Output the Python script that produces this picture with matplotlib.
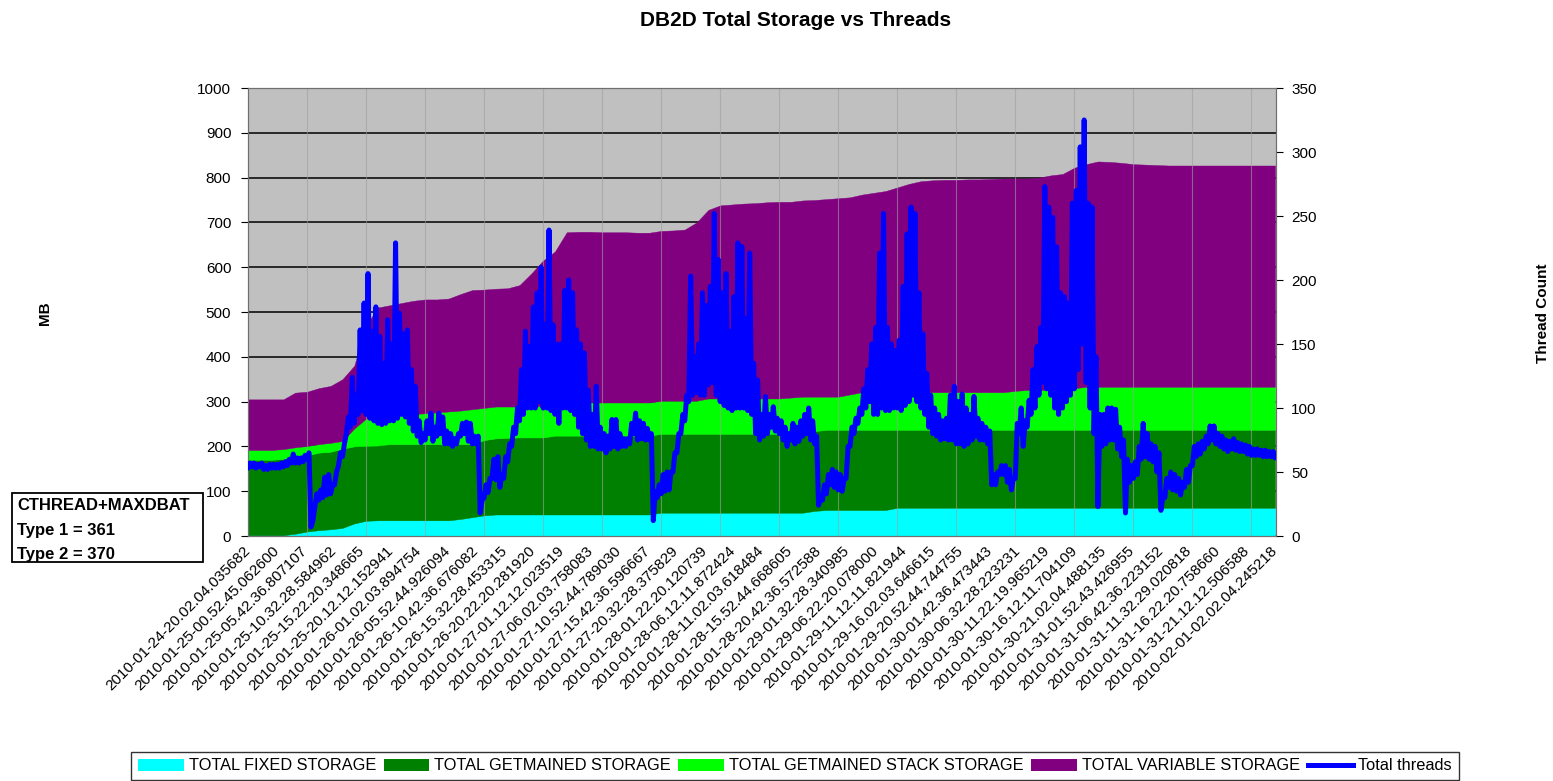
import numpy as np
import matplotlib.pyplot as plt
from matplotlib.patches import Rectangle, Patch
from matplotlib.lines import Line2D

plt.rcParams['font.family'] = ['Liberation Sans', 'DejaVu Sans']

# x axis labels (one every 58 samples of ~5 min)
tick_labels = [
    "2010-01-24-20.02.04.035682", "2010-01-25-00.52.45.062600", "2010-01-25-05.42.36.807107",
    "2010-01-25-10.32.28.584962", "2010-01-25-15.22.20.348665", "2010-01-25-20.12.12.152941",
    "2010-01-26-01.02.03.894754", "2010-01-26-05.52.44.926094", "2010-01-26-10.42.36.676082",
    "2010-01-26-15.32.28.453315", "2010-01-26-20.22.20.281920", "2010-01-27-01.12.12.023519",
    "2010-01-27-06.02.03.758083", "2010-01-27-10.52.44.789030", "2010-01-27-15.42.36.596667",
    "2010-01-27-20.32.28.375829", "2010-01-28-01.22.20.120739", "2010-01-28-06.12.11.872424",
    "2010-01-28-11.02.03.618484", "2010-01-28-15.52.44.668605", "2010-01-28-20.42.36.572588",
    "2010-01-29-01.32.28.340985", "2010-01-29-06.22.20.078000", "2010-01-29-11.12.11.821944",
    "2010-01-29-16.02.03.646615", "2010-01-29-20.52.44.744755", "2010-01-30-01.42.36.473443",
    "2010-01-30-06.32.28.223231", "2010-01-30-11.22.19.965219", "2010-01-30-16.12.11.704109",
    "2010-01-30-21.02.04.488135", "2010-01-31-01.52.43.426955", "2010-01-31-06.42.36.223152",
    "2010-01-31-11.32.29.020818", "2010-01-31-16.22.20.758660", "2010-01-31-21.12.12.506588",
    "2010-02-01-02.02.04.245218",
]

# storage in MB, one value every 24 samples
fixed_storage = [2] * 4 + [5, 10, 13, 15, 18, 28, 34] + [35] * 7 + [38, 42, 46] + [48] * 14 \
    + [52] * 13 + [56] + [58] * 6 + [63] * 33
getmained_storage = [168, 168, 168, 170, 173, 170, 173, 173, 177, 172, 167, 167] + [170] * 6 \
    + [167, 163, 168, 170, 171] + [172] * 3 + [176] * 9 + [176] * 11 + [178, 180, 178] \
    + [179] * 6 + [174] * 33
stack_storage = [22, 22, 22, 22, 20, 21, 19, 20, 17, 40, 61, 64, 63, 65, 67, 69, 71, 73, 75, 78,
                 72, 71, 70, 69, 70, 70, 68] + [74] * 8 + [74] * 4 + [79] * 7 \
    + [79, 79, 77, 74, 74, 79] + [84] * 13 + [87] + [89] * 4 + [93] + [96] * 17
variable_storage = [113, 113, 113, 111, 122, 121, 125, 127, 138, 140, 208, 244, 247, 250, 253,
                    254, 252, 252, 260, 266, 264, 263, 264, 271, 296, 325, 343, 380, 381, 381,
                    380, 380, 380, 379, 379, 379, 380, 382, 398, 421, 431, 433, 435, 436, 438,
                    439, 437, 438, 439, 441, 443, 440, 441, 445, 449, 457, 465, 471, 473, 474,
                    474, 475, 475, 476, 477, 474, 472, 474, 479, 482, 492, 497, 503, 502, 500,
                    497, 496, 495] + [494] * 10

# thread count, lowest and highest reading in each block of 8 samples
threads_low = [
    53, 54, 53, 54, 52, 52, 53, 53, 53, 54, 55, 57, 57, 57, 58, 60,
    7, 23, 28, 30, 32, 33, 40, 55, 62,
    80, 85, 88, 95, 98, 95, 92, 90, 88, 87, 88, 90, 90, 92, 95, 93, 88, 82, 78,
    73, 75, 80, 74, 78, 80, 72, 72, 70, 72, 78, 80, 74, 72, 72,
    18, 30, 34, 45, 44,
    38, 45, 58, 70, 80, 90, 95, 100, 100, 100, 105, 100, 100, 98, 95, 88, 100, 100, 98, 95,
    85, 80, 75, 70, 70, 68, 68, 65, 68, 70, 68, 70, 70, 72, 80, 75, 76, 75, 75,
    12, 30, 33, 35, 36, 50, 65, 80, 90,
    105, 110, 112, 110, 110, 118, 120, 110, 105, 102, 100, 98, 100, 100, 100, 98, 95, 80, 75,
    78, 80, 85, 82, 80, 75, 70, 75, 72, 74, 78, 80, 75, 72,
    24, 28, 33, 40, 38, 36, 35,
    45, 70, 80, 88, 95, 100, 105, 95, 95, 100, 98, 98, 100, 100, 98, 102, 105, 110, 105, 100, 95,
    85, 80, 78, 75, 76, 75, 75, 72, 72, 70, 72, 75, 78, 75, 75, 72,
    40, 40, 48, 48, 42, 36, 45, 80,
    70, 85, 95, 100, 110, 120, 115, 110, 100, 95, 100, 105, 110, 115, 130, 150, 120, 100, 80,
    23, 70, 72, 75, 75, 68, 62, 18, 42, 45, 48, 60, 62, 60, 58, 50, 20, 30, 38, 36, 35, 32, 38, 42,
    55, 62, 64, 68, 72, 75, 72, 70, 68, 66, 68, 67, 66, 66, 64, 63, 63, 63, 62, 62, 62, 61,
]
threads_high = [
    57, 57, 56, 57, 55, 56, 56, 56, 57, 58, 60, 64, 61, 61, 63, 65,
    12, 33, 36, 46, 48, 40, 50, 65, 72,
    93, 124, 110, 161, 182, 205, 160, 179, 156, 135, 169, 150, 229, 174, 158, 161, 130, 117, 90,
    80, 90, 96, 85, 96, 93, 82, 80, 76, 80, 88, 89, 88, 78, 78,
    28, 40, 45, 60, 62,
    48, 62, 72, 85, 100, 130, 160, 148, 179, 190, 210, 165, 239, 165, 150, 150, 192, 200, 190, 161,
    150, 143, 114, 95, 117, 85, 80, 78, 91, 91, 80, 76, 76, 88, 96, 90, 88, 84, 80,
    35, 40, 48, 50, 50, 65, 80, 95, 110,
    203, 140, 150, 190, 180, 195, 252, 216, 190, 205, 160, 187, 229, 226, 170, 221, 135, 122, 95,
    109, 95, 101, 92, 90, 85, 80, 88, 85, 90, 95, 100, 90, 78,
    30, 40, 48, 52, 50, 48, 45,
    70, 85, 92, 100, 115, 130, 150, 163, 221, 252, 163, 150, 145, 153, 195, 236, 257, 252, 190,
    158, 127,
    110, 100, 95, 90, 92, 110, 117, 105, 111, 100, 95, 109, 92, 88, 85, 82,
    48, 50, 55, 55, 52, 45, 88, 100,
    90, 106, 130, 148, 163, 273, 257, 249, 226, 190, 187, 182, 260, 270, 304, 325, 260, 257, 140,
    95, 95, 100, 100, 99, 85, 75, 60, 55, 58, 70, 88, 80, 72, 70, 65, 30, 45, 50, 48, 45, 42, 52, 55,
    70, 72, 74, 78, 86, 86, 80, 78, 75, 74, 76, 73, 72, 71, 70, 68, 68, 67, 67, 66, 66, 65,
]

series_names = ["TOTAL FIXED STORAGE", "TOTAL GETMAINED STORAGE",
                "TOTAL GETMAINED STACK STORAGE", "TOTAL VARIABLE STORAGE"]
series_colors = ["#00FFFF", "#008000", "#00FF00", "#800080"]

STORE_STEP = 24
THREAD_STEP = 8
LABEL_STEP = 58

x_store = np.arange(len(fixed_storage)) * STORE_STEP
layers = np.vstack([fixed_storage, getmained_storage, stack_storage, variable_storage])
tops = np.cumsum(layers, axis=0)

# low then high reading inside every block
blk = np.arange(len(threads_low)) * THREAD_STEP
x_thr = np.column_stack([blk, blk + THREAD_STEP / 2]).ravel()
y_thr = np.column_stack([threads_low, threads_high]).ravel()

fig = plt.figure(figsize=(15.53, 7.81), dpi=100)
ax = fig.add_axes([248 / 1553, 1 - 536 / 781, 1028 / 1553, 448 / 781])
ax.set_facecolor("#C0C0C0")
ax.set_axisbelow(True)
ax.yaxis.grid(True, color="black", lw=1.1)

bottom = np.zeros(len(x_store))
for top, col in zip(tops, series_colors):
    ax.fill_between(x_store, bottom, top, color=col, lw=0.3, edgecolor=col, zorder=1)
    bottom = top

for v in range(120, 2090, 120):
    ax.axvline(v, color="#A0A0A0", lw=0.8, alpha=0.6, zorder=2)

ax.set_xlim(0, 2090)
ax.set_ylim(0, 1000)
ax.set_yticks(range(0, 1001, 100))
ax.set_xticks(np.arange(len(tick_labels)) * LABEL_STEP)
ax.set_xticklabels(tick_labels, rotation=45, ha="right", va="center",
                   rotation_mode="anchor", fontsize=11)
ax.tick_params(axis="x", length=0, pad=9)
ax.tick_params(axis="y", labelsize=11, length=5, pad=7)
for s in ax.spines.values():
    s.set_color("#707070")

ax2 = ax.twinx()
ax2.plot(x_thr, y_thr, color="#0000FF", lw=3.6,
         solid_joinstyle="round", solid_capstyle="round", zorder=5)
ax2.set_ylim(0, 350)
ax2.set_yticks(range(0, 351, 50))
ax2.tick_params(axis="y", labelsize=11, length=5, pad=6)
for s in ax2.spines.values():
    s.set_color("#707070")

fig.text(0.512, 1 - 20 / 781, "DB2D Total Storage vs Threads", ha="center", va="center",
         fontsize=15, fontweight="bold")
fig.text(45 / 1553, 1 - 313 / 781, "MB", rotation=90, ha="center", va="center",
         fontsize=11, fontweight="bold")
fig.text(1543 / 1553, 1 - 313 / 781, "Thread Count", rotation=90, ha="center", va="center",
         fontsize=11, fontweight="bold")

# note box on the left
fig.patches.append(Rectangle((12 / 1553, 1 - 562 / 781), 191 / 1553, 69 / 781,
                             transform=fig.transFigure, fill=False, edgecolor="black", lw=1.3))
for txt, yy in [("CTHREAD+MAXDBAT", 506), ("Type 1 = 361", 530), ("Type 2 = 370", 554)]:
    fig.text(17 / 1553, 1 - yy / 781, txt, ha="left", va="center", fontsize=12,
             fontweight="bold")

handles = [Patch(facecolor=c, edgecolor="none") for c in series_colors]
handles.append(Line2D([], [], color="#0000FF", lw=3.6))
leg = fig.legend(handles, series_names + ["Total threads"], loc="center",
                 bbox_to_anchor=(795 / 1553, 1 - 766 / 781), ncol=5, fontsize=11.8,
                 frameon=True, fancybox=False, edgecolor="black", handlelength=2.8,
                 handleheight=0.75, handletextpad=0.3, columnspacing=0.45, borderpad=0.4)
leg.get_frame().set_linewidth(1.0)

fig.savefig("out.png", dpi=100)
